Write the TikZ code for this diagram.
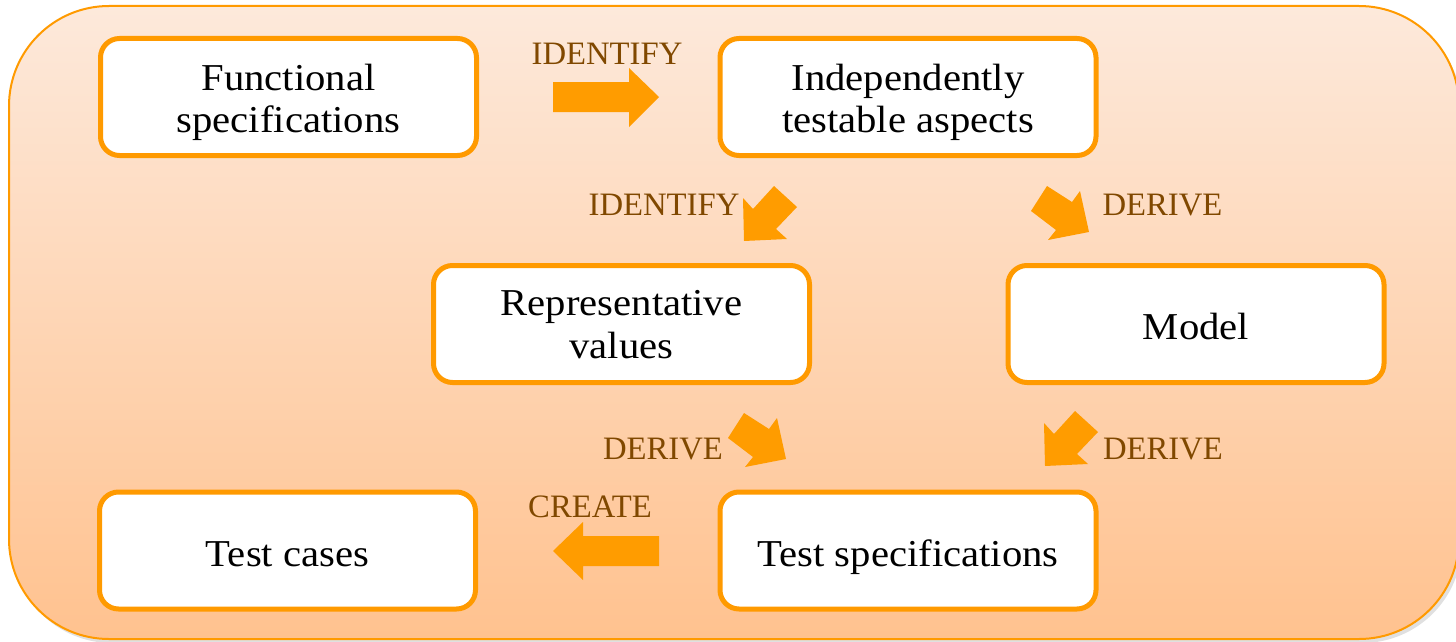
\documentclass[tikz,border=0pt]{standalone}
\usepackage{fontspec}
\setmainfont{Liberation Serif}[FakeStretch=1.07]
\newfontfamily\lblfont{Liberation Serif}
\definecolor{orng}{RGB}{255,154,0}
\definecolor{arrowc}{RGB}{255,156,0}
\definecolor{lblc}{RGB}{128,72,0}
\definecolor{bgtop}{RGB}{253,233,219}
\definecolor{bgbot}{RGB}{255,194,143}
\begin{document}
\begin{tikzpicture}[x=1pt,y=-1pt,
  box/.style={draw=orng, line width=5pt, fill=white, rounded corners=19pt,
    minimum width=376pt, minimum height=117pt, inner sep=0pt},
  boxtxt/.style={align=center, inner sep=0pt, font=\fontsize{38}{42.5}\selectfont},
  lbl/.style={inner sep=0pt, text=lblc, font=\lblfont\fontsize{32.7}{36}\selectfont},
  blockarrow/.style={fill=arrowc, draw=none}]
\useasboundingbox (0,0) rectangle (1456,642);
% background panel
\fill[black, opacity=0.12, rounded corners=100pt] (12,10) rectangle (1462,643);
\shade[top color=bgtop, bottom color=bgbot, rounded corners=100pt] (9,6) rectangle (1459,639);
\draw[orng, line width=2pt, rounded corners=100pt] (9,6) rectangle (1459,639);
% boxes
\node[box] (fs) at (288.5,97) {};
\node[box] (ita) at (908,97) {};
\node[box] (rv) at (621.5,324) {};
\node[box] (mdl) at (1196,324) {};
\node[box] (tc) at (287.5,550.5) {};
\node[box] (ts) at (908,550.5) {};
% box texts
\node[boxtxt] (fst) at ([yshift=-5.6pt]fs.center) {Functional\\specifications};
\node[boxtxt] (itat) at ([yshift=-5.6pt]ita.center) {Independently\\testable aspects};
\node[boxtxt] (rvt) at ([yshift=-0.4pt]rv.center) {Representative\\values};
\node[boxtxt, anchor=base] (mdlt) at ([yshift=-15pt]mdl.center) {Model};
\node[boxtxt, anchor=base] (tct) at ([yshift=-15.5pt]tc.center) {Test cases};
\node[boxtxt, anchor=base] (tst) at ([yshift=-15.5pt]ts.center) {Test specifications};
% block arrows
\fill[blockarrow] (553,82) -- (629,82) -- (629,68) -- (659,97) -- (629,127) -- (629,112) -- (553,112) -- cycle;
\fill[blockarrow] (659,536) -- (583,536) -- (583,522) -- (553,551) -- (583,580) -- (583,566) -- (659,566) -- cycle;
\fill[blockarrow] (774,186) -- (753,209) -- (743,198) -- (744,241) -- (787,239) -- (776,229) -- (797,207) -- cycle;
\begin{scope}[shift={(301,225)}]
\fill[blockarrow] (774,186) -- (753,209) -- (743,198) -- (744,241) -- (787,239) -- (776,229) -- (797,207) -- cycle;
\end{scope}
\fill[blockarrow] (1047,186) -- (1072,202) -- (1080,191) -- (1089,232) -- (1048,240) -- (1056,230) -- (1031,211) -- cycle;
\begin{scope}[shift={(-303,227)}]
\fill[blockarrow] (1047,186) -- (1072,202) -- (1080,191) -- (1089,232) -- (1048,240) -- (1056,230) -- (1031,211) -- cycle;
\end{scope}
% labels
\node[lbl, anchor=base] (l1) at (607,64) {IDENTIFY};
\node[lbl, anchor=base] (l2) at (664,215) {IDENTIFY};
\node[lbl, anchor=base] (l3) at (1162.5,215) {DERIVE};
\node[lbl, anchor=base] (l4) at (663,459) {DERIVE};
\node[lbl, anchor=base] (l5) at (1163,459) {DERIVE};
\node[lbl, anchor=base] (l6) at (590,517) {CREATE};
\end{tikzpicture}
\end{document}
